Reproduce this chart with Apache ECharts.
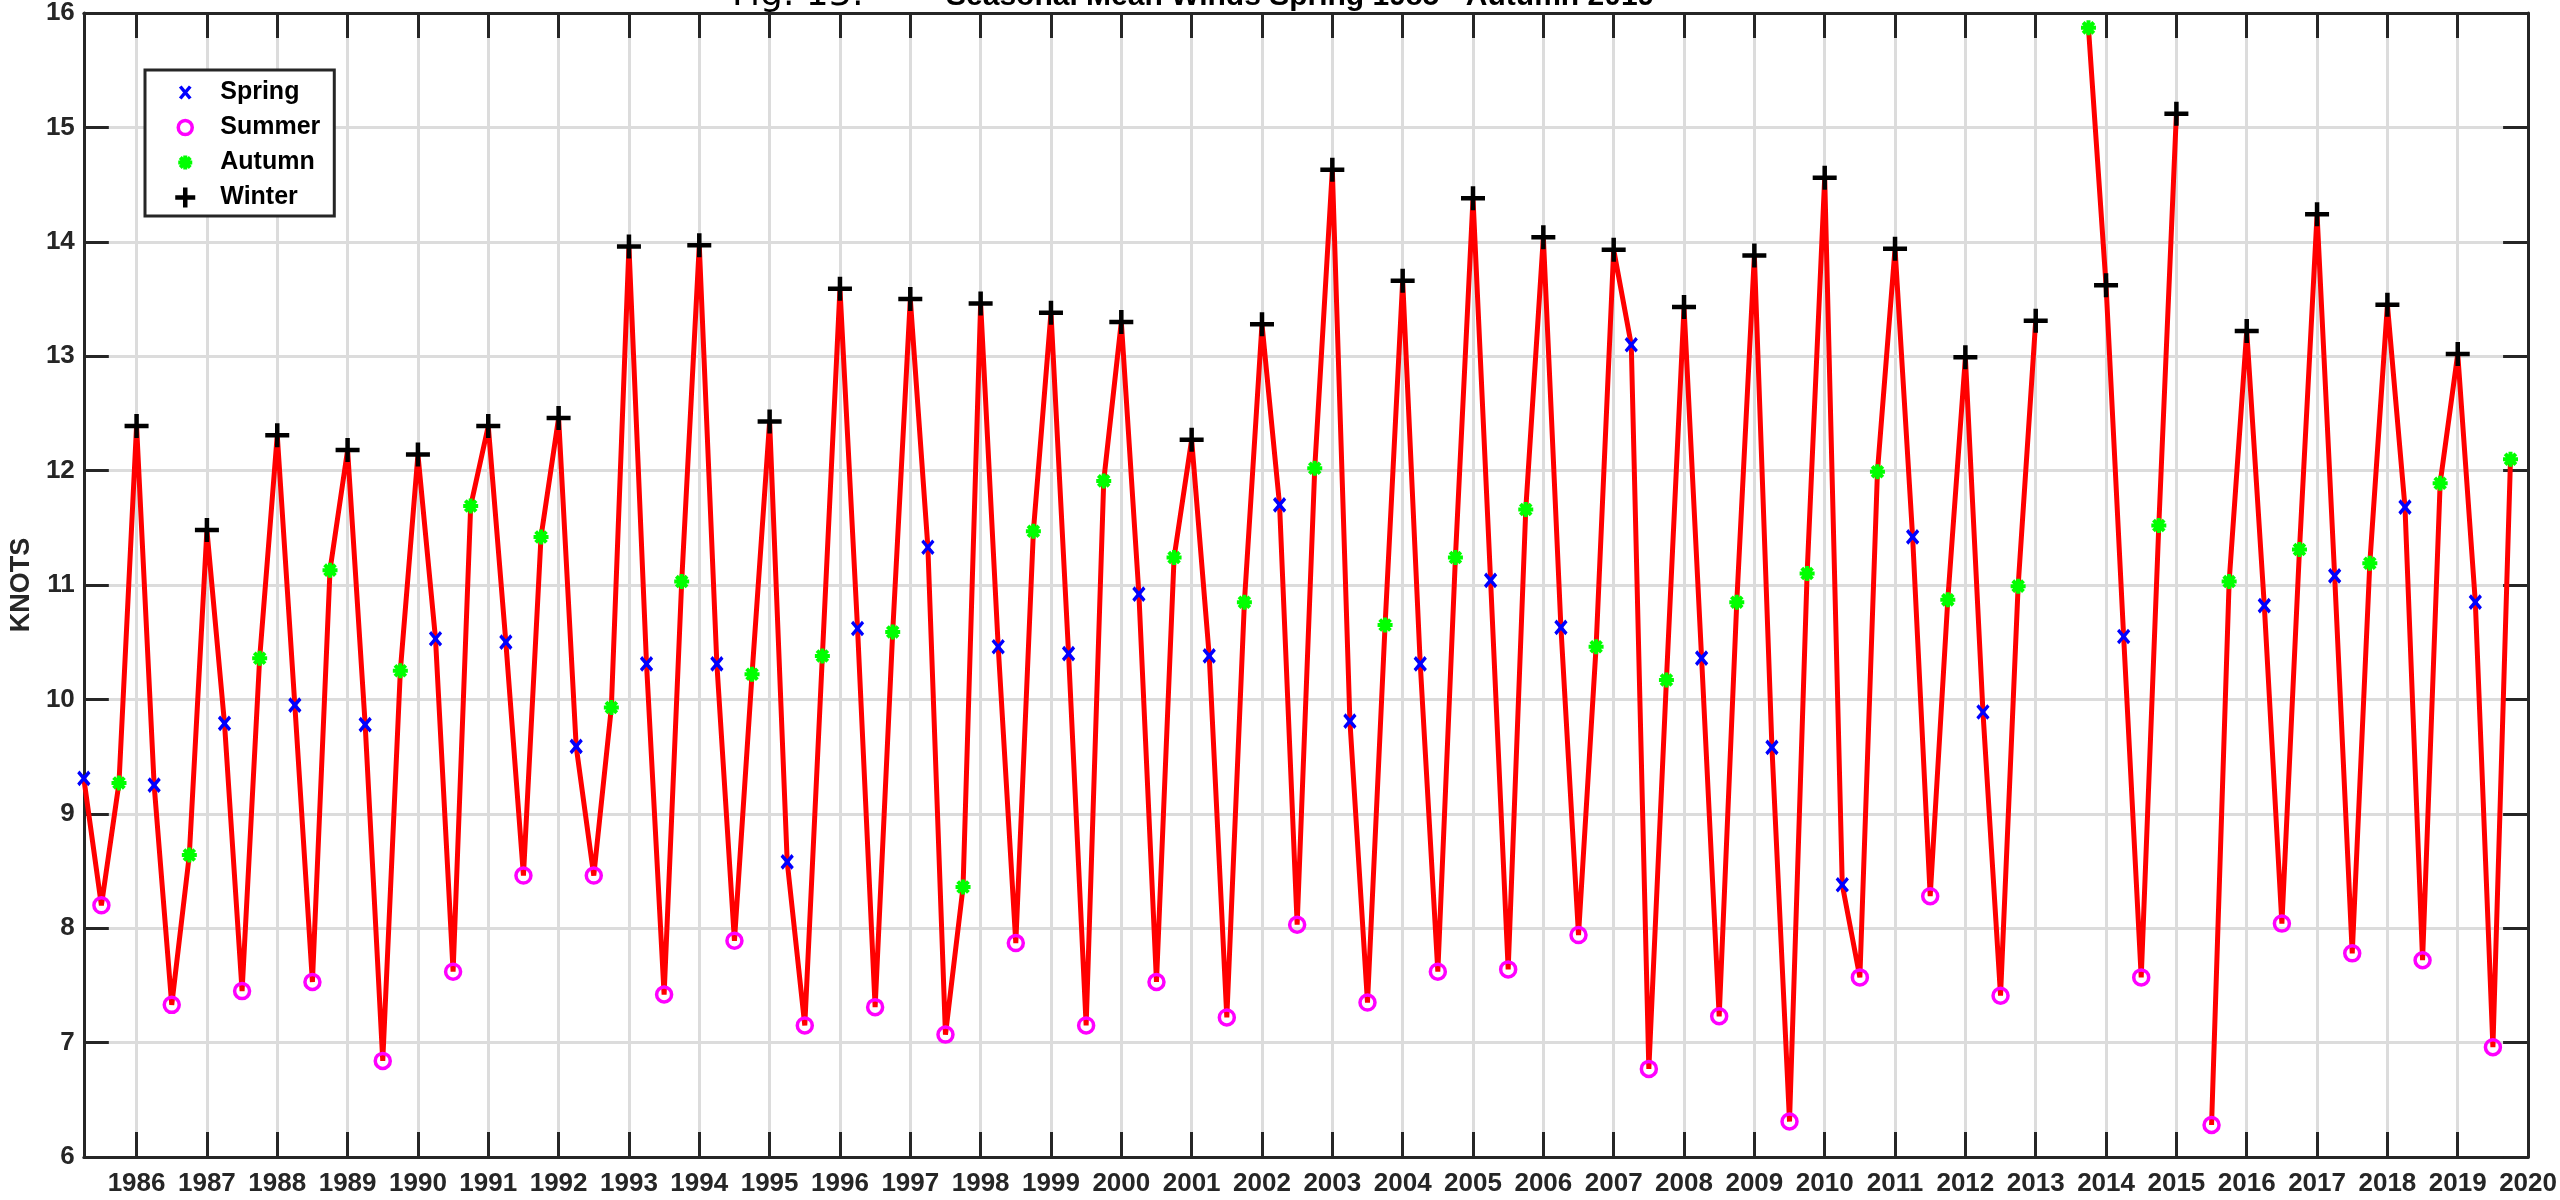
<!DOCTYPE html>
<html>
<head>
<meta charset="utf-8">
<script src="https://cdn.jsdelivr.net/npm/echarts@6/dist/echarts.min.js"></script>
<style>
html,body{margin:0;padding:0;background:#fff;}
#chart{width:2560px;height:1200px;}
</style>
</head>
<body>
<div id="chart"></div>
<script>
// Season-years (spring/summer/autumn of year Y, winter plotted at Y+1)
const seasonYears = [1985,1986,1987,1988,1989,1990,1991,1992,1993,1994,1995,1996,1997,1998,1999,2000,2001,2002,2003,2004,2005,2006,2007,2008,2009,2010,2011,2012,2013,2014,2015,2016,2017,2018,2019];
const spring = [9.31,9.25,9.79,9.95,9.78,10.53,10.50,9.59,10.31,10.31,8.58,10.62,11.33,10.46,10.40,10.92,10.38,11.70,9.81,10.31,11.04,10.63,13.10,10.36,9.58,8.38,11.42,9.89,null,10.55,null,10.82,11.08,11.68,10.85];
const summer = [8.20,7.33,7.45,7.53,6.84,7.62,8.46,8.46,7.42,7.89,7.15,7.31,7.07,7.87,7.15,7.53,7.22,8.03,7.35,7.62,7.64,7.94,6.77,7.23,6.31,7.57,8.28,7.41,null,7.57,6.28,8.04,7.78,7.72,6.96];
const autumn = [9.27,8.64,10.36,11.13,10.25,11.69,11.42,9.93,11.03,10.22,10.38,10.59,8.36,11.47,11.91,11.24,10.85,12.02,10.65,11.24,11.66,10.46,10.17,10.85,11.10,11.99,10.87,10.99,15.87,11.52,11.03,11.31,11.19,11.89,12.10];
const winter = [12.39,11.48,12.31,12.18,12.14,12.39,12.46,13.96,13.97,12.43,13.59,13.50,13.46,13.38,13.30,12.27,13.28,14.63,13.66,14.38,14.04,13.93,13.43,13.88,14.56,13.94,12.99,13.31,13.62,15.12,13.22,14.24,13.45,13.02,null];
const seasonOffsets = [0.25, 0.5, 0.75, 1.0];
const seasonNames = ['Spring','Summer','Autumn','Winter'];

const FONT = "'Liberation Sans', Arial, Helvetica, sans-serif";
const AX = '#262626';
const GRID = '#dcdcdc';

// quarterly categories
const categories = [];
const lineData = [];
const seasonArrays = [spring, summer, autumn, winter];
const scatterData = [[],[],[],[]];
seasonYears.forEach((y, i) => {
  seasonOffsets.forEach((off, s) => {
    const c = String(+(y + off).toFixed(2));
    categories.push(c);
    const v = seasonArrays[s][i];
    lineData.push(v == null ? '-' : v);
    if (v != null) scatterData[s].push([c, v]);
  });
});
const isYear = (idx, val) => Number.isInteger(Number(val));

const symX = 'path://M0,0L10,12M10,0L0,12';
const symPlus = 'path://M0,10L20,10M10,0L10,20';
const symStar = 'path://M0,7L14,7M7,0L7,14M2,2L12,12M12,2L2,12';
const legX = 'path://M0,0M20,20M5,4L15,16M15,4L5,16';
const legCircle = 'path://M0,0M20,20M17,10A7,7,0,1,1,3,10A7,7,0,1,1,17,10Z';
const legStar = 'path://M0,0M20,20M3,10L17,10M10,3L10,17M5,5L15,15M15,5L5,15';

const markerStyles = [
  {symbol: symX, size:[11,13], color:'#0000ff', width:3.5, legIcon: legX},
  {symbol: 'circle', size:15, color:'#ff00ff', width:3.5, legIcon: legCircle},
  {symbol: symStar, size:15, color:'#00ff00', width:4, legIcon: legStar},
  {symbol: symPlus, size:24, color:'#000000', width:4.5, legIcon: symPlus}
];

const chart = echarts.init(document.getElementById('chart'), null, {renderer:'canvas'});

const xBase = {
  type:'category', data: categories, boundaryGap:false,
  axisLine:{show:true, lineStyle:{color:AX, width:3}},
  axisTick:{show:true, inside:true, length:25, interval:isYear, lineStyle:{color:AX, width:3}},
};
const yBase = {
  type:'value', min:6, max:16, interval:1,
  axisLine:{show:true, lineStyle:{color:AX, width:3}},
  axisTick:{show:true, inside:true, length:25, lineStyle:{color:AX, width:3}},
};

const option = {
  animation:false,
  backgroundColor:'#fff',
  grid:{left:80, right:29, top:13, bottom:43, containLabel:false},
  graphic:[
    {type:'text', left:732, top:-22, z:100, style:{text:'Fig. 13:', font:"normal 36px 'DejaVu Sans', sans-serif", fill:'#000'}},
    {type:'text', left:946, top:-18, z:100, style:{text:'Seasonal Mean Winds Spring 1985 - Autumn 2019', font:"bold 30px 'Liberation Sans', Arial, sans-serif", fill:'#000'}}
  ],
  legend:{
    orient:'vertical', left:145, top:70, z:10,
    backgroundColor:'#fff', borderColor:AX, borderWidth:3,
    padding:[10,14,6,28], itemGap:10, itemWidth:20, itemHeight:20,
    textStyle:{fontFamily:FONT, fontSize:25, fontWeight:'bold', color:'#000', padding:[0,0,0,20]},
    data: seasonNames.map((n, s) => ({
      name:n, icon: markerStyles[s].legIcon,
      itemStyle:{color:'transparent', borderColor: markerStyles[s].color, borderWidth: markerStyles[s].width}
    }))
  },
  xAxis:[
    Object.assign({}, xBase, {
      position:'bottom',
      axisLabel:{show:true, interval:isYear, fontFamily:FONT, fontSize:26, fontWeight:'bold', color:AX, margin:14},
      splitLine:{show:true, interval:isYear, lineStyle:{color:GRID, width:3}}
    }),
    Object.assign({}, xBase, {
      position:'top',
      axisLabel:{show:false}, splitLine:{show:false}
    })
  ],
  yAxis:[
    Object.assign({}, yBase, {
      position:'left',
      name:'KNOTS', nameLocation:'middle', nameGap:48,
      nameTextStyle:{fontFamily:FONT, fontSize:27, fontWeight:'bold', color:AX},
      axisLabel:{show:true, fontFamily:FONT, fontSize:26, fontWeight:'bold', color:AX, margin:9},
      splitLine:{show:true, lineStyle:{color:GRID, width:3}}
    }),
    Object.assign({}, yBase, {
      position:'right',
      axisLabel:{show:false}, splitLine:{show:false}
    })
  ],
  series: [
    {
      name:'Mean', type:'line', xAxisIndex:0, yAxisIndex:0,
      data: lineData, connectNulls:false, showSymbol:false, symbol:'none',
      lineStyle:{color:'#ff0000', width:5}, z:2, silent:true
    }
  ].concat(seasonNames.map((n, s) => ({
    name:n, type:'scatter', xAxisIndex:0, yAxisIndex:0,
    data: scatterData[s],
    symbol: markerStyles[s].symbol, symbolSize: markerStyles[s].size,
    itemStyle:{color:'transparent', borderColor: markerStyles[s].color, borderWidth: markerStyles[s].width, opacity:1},
    z:3, silent:true
  })))
};
chart.setOption(option);
</script>
</body>
</html>
